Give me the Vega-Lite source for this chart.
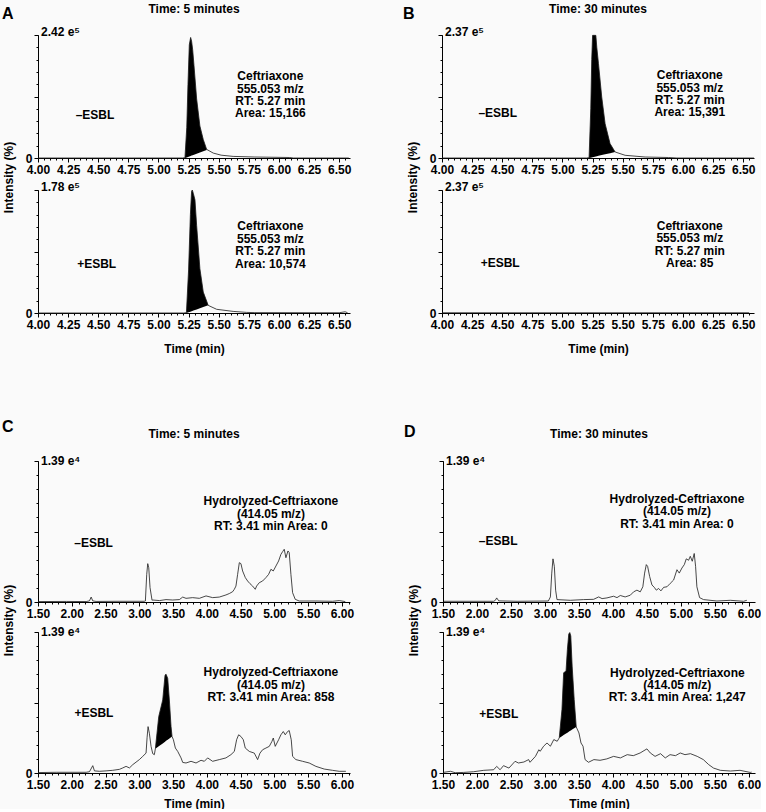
{
"$schema": "https://vega.github.io/schema/vega-lite/v6.json",
"background": "#fafafa",
"padding": {"left": 2, "top": 3, "right": 0, "bottom": 0},
"config": {
  "font": "Liberation Sans",
  "view": {"stroke": null},
  "axis": {"domainColor": "#000", "tickColor": "#000", "labelColor": "#000", "labelFont": "Liberation Sans", "labelFontWeight": "bold", "labelFontSize": 12, "titleFont": "Liberation Sans", "titleFontWeight": "bold", "titleFontSize": 12, "titleColor": "#000", "grid": false, "labelOverlap": false, "labelFlush": false, "domainWidth": 1, "tickWidth": 1, "labelPadding": 2},
  "title": {"font": "Liberation Sans", "fontWeight": "bold", "fontSize": 12, "color": "#000"},
  "text": {"font": "Liberation Sans", "fontWeight": "bold", "fontSize": 12, "color": "#000"}
},
"datasets": {
  "Aneg": [{"t":4,"v":0},{"t":5.2,"v":0},{"t":5.22,"v":0.3,"b":0},{"t":5.235,"v":25,"b":0.5},{"t":5.245,"v":60,"b":0.9},{"t":5.256,"v":92,"b":1.3},{"t":5.267,"v":98,"b":1.7},{"t":5.275,"v":95,"b":2.0},{"t":5.284,"v":88,"b":2.3},{"t":5.295,"v":75,"b":2.7},{"t":5.317,"v":48,"b":3.5},{"t":5.344,"v":26,"b":4.5},{"t":5.372,"v":15,"b":5.5},{"t":5.4,"v":7,"b":6.5},{"t":5.455,"v":4},{"t":5.52,"v":2.3},{"t":5.62,"v":1.3},{"t":5.8,"v":0.8},{"t":6.09,"v":0.4},{"t":6.12,"v":0},{"t":6.58,"v":0}],
  "Apos": [{"t":4,"v":0},{"t":5.21,"v":0},{"t":5.232,"v":0.3,"b":0},{"t":5.25,"v":35,"b":0.6},{"t":5.265,"v":80,"b":1.1},{"t":5.275,"v":99,"b":1.5},{"t":5.281,"v":100,"b":1.7},{"t":5.29,"v":97,"b":2.0},{"t":5.303,"v":92,"b":2.4},{"t":5.317,"v":71,"b":2.9},{"t":5.344,"v":36,"b":3.8},{"t":5.372,"v":17,"b":4.8},{"t":5.413,"v":6.2,"b":6.2},{"t":5.483,"v":3},{"t":5.62,"v":1.3},{"t":5.73,"v":0.5},{"t":5.8,"v":0.3},{"t":6.5,"v":0.2},{"t":6.55,"v":1},{"t":6.57,"v":0.2}],
  "Bneg": [{"t":4,"v":0},{"t":5.2,"v":0},{"t":5.221,"v":0.3,"b":0},{"t":5.235,"v":40,"b":0.3},{"t":5.243,"v":80,"b":0.5},{"t":5.25,"v":99.7,"b":0.7},{"t":5.277,"v":99.7,"b":1.3},{"t":5.285,"v":90,"b":1.5},{"t":5.299,"v":76.7,"b":1.8},{"t":5.326,"v":49.6,"b":2.4},{"t":5.354,"v":27.9,"b":3.0},{"t":5.395,"v":11.7,"b":3.9},{"t":5.437,"v":4.9,"b":4.9},{"t":5.52,"v":2.2},{"t":5.686,"v":0.8},{"t":5.88,"v":0.4},{"t":5.95,"v":0},{"t":6.59,"v":0}],
  "Bpos": [{"t":4,"v":0.2},{"t":6.55,"v":0.2}],
  "Cneg": [{"t":1.5,"v":0.3},{"t":1.92,"v":0.4},{"t":2.213,"v":0.3},{"t":2.262,"v":0.8},{"t":2.287,"v":3.5},{"t":2.311,"v":0.8},{"t":2.36,"v":0.4},{"t":2.7,"v":0.5},{"t":3.075,"v":0.5},{"t":3.09,"v":0.7},{"t":3.11,"v":19.6},{"t":3.125,"v":27.2},{"t":3.14,"v":24.3},{"t":3.159,"v":10.2},{"t":3.189,"v":1.2},{"t":3.199,"v":1.4},{"t":3.3,"v":1.0},{"t":3.396,"v":1.7},{"t":3.495,"v":1.4},{"t":3.593,"v":1.7},{"t":3.643,"v":3.5},{"t":3.692,"v":2.6},{"t":3.79,"v":3.1},{"t":3.889,"v":2.6},{"t":3.988,"v":4.3},{"t":4.086,"v":3.1},{"t":4.185,"v":3.5},{"t":4.283,"v":5.0},{"t":4.333,"v":6.0},{"t":4.382,"v":7.3},{"t":4.407,"v":9.0},{"t":4.431,"v":11.3},{"t":4.456,"v":19.6},{"t":4.481,"v":27.9},{"t":4.505,"v":27.2},{"t":4.53,"v":22.0},{"t":4.57,"v":17.3},{"t":4.604,"v":14.9},{"t":4.639,"v":13.0},{"t":4.678,"v":11.3},{"t":4.717,"v":9.0},{"t":4.737,"v":11.3},{"t":4.777,"v":13.7},{"t":4.826,"v":14.9},{"t":4.875,"v":17.3},{"t":4.915,"v":19.6},{"t":4.949,"v":23.2},{"t":4.984,"v":22.0},{"t":5.023,"v":25.5},{"t":5.063,"v":29.1},{"t":5.097,"v":33.8},{"t":5.122,"v":35.7},{"t":5.146,"v":37.4},{"t":5.171,"v":31.4},{"t":5.201,"v":36.2},{"t":5.22,"v":35.0},{"t":5.245,"v":19.6},{"t":5.27,"v":6.6},{"t":5.309,"v":1.9},{"t":5.368,"v":0.7},{"t":5.615,"v":0.7},{"t":5.861,"v":0.5},{"t":5.96,"v":1.0},{"t":6.05,"v":0.3}],
  "Cpos": [{"t":1.5,"v":0.3},{"t":1.77,"v":0.5},{"t":2.213,"v":0.5},{"t":2.262,"v":0.9},{"t":2.311,"v":5.2},{"t":2.336,"v":1.5},{"t":2.41,"v":1.2},{"t":2.508,"v":1.5},{"t":2.607,"v":1.9},{"t":2.706,"v":2.6},{"t":2.755,"v":3.6},{"t":2.804,"v":4.7},{"t":2.854,"v":3.6},{"t":2.903,"v":5.9},{"t":3.001,"v":9.5},{"t":3.051,"v":11.8},{"t":3.1,"v":14.1},{"t":3.115,"v":25},{"t":3.13,"v":32.9},{"t":3.149,"v":28.2},{"t":3.174,"v":18.9},{"t":3.199,"v":13.7},{"t":3.223,"v":13.0},{"t":3.238,"v":17.2,"b":17.2},{"t":3.288,"v":40,"b":19.0},{"t":3.347,"v":51.8,"b":21.0},{"t":3.381,"v":69.4,"b":22.2},{"t":3.396,"v":70.1,"b":22.8},{"t":3.421,"v":67.1,"b":23.6},{"t":3.445,"v":51.8,"b":24.5},{"t":3.47,"v":32.9,"b":25.4},{"t":3.485,"v":25.9,"b":25.9},{"t":3.505,"v":23.6},{"t":3.534,"v":17.7},{"t":3.569,"v":15.3},{"t":3.618,"v":10.7},{"t":3.643,"v":7.5},{"t":3.692,"v":7.1},{"t":3.766,"v":8.3},{"t":3.84,"v":7.1},{"t":3.914,"v":9.0},{"t":3.963,"v":8.3},{"t":4.012,"v":10.7},{"t":4.086,"v":8.3},{"t":4.185,"v":9.5},{"t":4.283,"v":10.7},{"t":4.357,"v":13.0},{"t":4.407,"v":15.3},{"t":4.441,"v":23.6},{"t":4.471,"v":27.1},{"t":4.505,"v":25.9},{"t":4.54,"v":23.6},{"t":4.569,"v":17.7},{"t":4.629,"v":15.3},{"t":4.703,"v":14.1},{"t":4.752,"v":9.5},{"t":4.787,"v":14.1},{"t":4.826,"v":16.5},{"t":4.875,"v":17.7},{"t":4.925,"v":18.9},{"t":4.964,"v":22.4},{"t":4.984,"v":24.8},{"t":5.013,"v":18.9},{"t":5.063,"v":23.6},{"t":5.097,"v":27.1},{"t":5.132,"v":29.4},{"t":5.161,"v":27.1},{"t":5.196,"v":29.4},{"t":5.22,"v":30.1},{"t":5.25,"v":23.6},{"t":5.27,"v":11.8},{"t":5.319,"v":9.5},{"t":5.418,"v":8.3},{"t":5.516,"v":7.1},{"t":5.615,"v":4.7},{"t":5.738,"v":2.8},{"t":5.861,"v":1.9},{"t":5.96,"v":1.2},{"t":6.059,"v":1.2}],
  "Dneg": [{"t":1.51,"v":0.5},{"t":2.246,"v":0.5},{"t":2.27,"v":1.2},{"t":2.29,"v":2.9},{"t":2.32,"v":0.8},{"t":2.59,"v":0.5},{"t":3.05,"v":0.7},{"t":3.08,"v":3.6},{"t":3.1,"v":20.5},{"t":3.118,"v":30.6},{"t":3.138,"v":25.3},{"t":3.157,"v":8.4},{"t":3.177,"v":1.7},{"t":3.373,"v":1.2},{"t":3.569,"v":1.7},{"t":3.716,"v":1.9},{"t":3.79,"v":3.6},{"t":3.84,"v":2.4},{"t":3.912,"v":2.9},{"t":4.01,"v":4.1},{"t":4.06,"v":3.1},{"t":4.108,"v":4.6},{"t":4.18,"v":3.6},{"t":4.255,"v":4.8},{"t":4.304,"v":7.2},{"t":4.353,"v":8.4},{"t":4.402,"v":7.2},{"t":4.44,"v":10.8},{"t":4.466,"v":20.5},{"t":4.491,"v":26.5},{"t":4.51,"v":25.3},{"t":4.54,"v":18.1},{"t":4.574,"v":12.1},{"t":4.608,"v":10.4},{"t":4.638,"v":8.4},{"t":4.672,"v":9.6},{"t":4.706,"v":7.9},{"t":4.746,"v":10.4},{"t":4.795,"v":10.8},{"t":4.843,"v":13.2},{"t":4.893,"v":15.6},{"t":4.942,"v":22.9},{"t":4.976,"v":20.5},{"t":5.015,"v":24.1},{"t":5.05,"v":26.5},{"t":5.079,"v":30.6},{"t":5.113,"v":29.6},{"t":5.138,"v":32.4},{"t":5.167,"v":28.9},{"t":5.196,"v":34.4},{"t":5.216,"v":25.3},{"t":5.235,"v":10.8},{"t":5.275,"v":3.1},{"t":5.333,"v":1.7},{"t":5.53,"v":0.7},{"t":5.726,"v":1.2},{"t":5.922,"v":0.5},{"t":5.97,"v":1.2}],
  "Dpos": [{"t":1.5,"v":0.4},{"t":1.61,"v":1.2},{"t":1.68,"v":0.2},{"t":1.8,"v":0.4},{"t":1.95,"v":0.9},{"t":2.1,"v":1.9},{"t":2.245,"v":2.3},{"t":2.29,"v":4.7},{"t":2.34,"v":2.3},{"t":2.39,"v":5.2},{"t":2.47,"v":3.5},{"t":2.56,"v":8.3},{"t":2.61,"v":7.1},{"t":2.69,"v":7.8},{"t":2.76,"v":9.5},{"t":2.78,"v":7.6},{"t":2.86,"v":11.8},{"t":2.91,"v":16.5},{"t":2.93,"v":15.4},{"t":2.98,"v":19.0},{"t":3.03,"v":21.3},{"t":3.08,"v":19.0},{"t":3.13,"v":23.7},{"t":3.18,"v":22.5},{"t":3.21,"v":24.9,"b":24.9},{"t":3.25,"v":45,"b":26.1},{"t":3.275,"v":71.1,"b":26.9},{"t":3.31,"v":72.3,"b":28.0},{"t":3.33,"v":87.7,"b":28.6},{"t":3.35,"v":98.5,"b":29.3},{"t":3.365,"v":99.6,"b":29.7},{"t":3.38,"v":97.2,"b":30.2},{"t":3.4,"v":75.8,"b":30.8},{"t":3.43,"v":52.1,"b":31.8},{"t":3.46,"v":32.7,"b":32.7},{"t":3.5,"v":28.4},{"t":3.53,"v":21.3},{"t":3.56,"v":19.0},{"t":3.59,"v":9.5},{"t":3.64,"v":7.6},{"t":3.72,"v":9.5},{"t":3.81,"v":9.0},{"t":3.91,"v":10.0},{"t":4.01,"v":11.8},{"t":4.11,"v":10.7},{"t":4.21,"v":13.0},{"t":4.3,"v":12.3},{"t":4.4,"v":14.2},{"t":4.5,"v":17.1},{"t":4.55,"v":14.2},{"t":4.62,"v":11.8},{"t":4.7,"v":13.7},{"t":4.77,"v":10.7},{"t":4.84,"v":13.0},{"t":4.92,"v":12.3},{"t":4.99,"v":14.2},{"t":5.06,"v":13.0},{"t":5.14,"v":13.7},{"t":5.24,"v":11.8},{"t":5.33,"v":9.5},{"t":5.41,"v":5.9},{"t":5.48,"v":3.5},{"t":5.58,"v":1.9},{"t":5.73,"v":1.4},{"t":5.87,"v":1.9},{"t":6.02,"v":0.4},{"t":6.04,"v":0.6}]
},
"vconcat": [
 {"hconcat": [
  {"title": {"text": "A", "anchor": "start", "frame": "bounds", "fontSize": 16, "dy": 22.5},
   "bounds": "flush", "spacing": 32,
   "vconcat": [
    {"width": 312, "height": 123,
     "title": {"text": "Time: 5 minutes", "anchor": "middle", "frame": "group", "offset": 10},
     "resolve": {"axis": {"x": "independent", "y": "independent"}},
     "layer": [
      {"data": {"name": "Aneg"}, "transform": [{"filter": "isValid(datum.b)"}], "mark": {"type": "area", "color": "#000"},
       "encoding": {"x": {"field": "t", "type": "quantitative", "scale": {"domain": [4, 6.59], "nice": false, "zero": false}, "axis": null},
                    "y": {"field": "v", "type": "quantitative", "scale": {"domain": [0, 100], "nice": false}, "axis": null},
                    "y2": {"field": "b"}}},
      {"data": {"name": "Aneg"}, "mark": {"type": "line", "color": "#1a1a1a", "strokeWidth": 0.8},
       "encoding": {
        "x": {"field": "t", "type": "quantitative", "scale": {"domain": [4, 6.59], "nice": false, "zero": false},
              "axis": {"orient": "bottom", "title": null, "values": [4,4.25,4.5,4.75,5,5.25,5.5,5.75,6,6.25,6.5], "format": ".2f", "tickSize": 4, "labelOverlap": false, "labelFlush": false}},
        "y": {"field": "v", "type": "quantitative", "scale": {"domain": [0, 100], "nice": false},
              "axis": {"orient": "left", "values": [0,50,100], "labelExpr": "datum.value == 0 ? '0' : ''", "tickSize": 4, "labelPadding": 2, "labelOverlap": false,
                       "title": "Intensity (%)", "titleX": -30, "titleY": 142, "titleBaseline": "middle", "titleAlign": "center", "titleAngle": 270}}}},
      {"data": {"values": [{}]}, "mark": {"type": "text", "align": "center", "baseline": "middle"},
       "encoding": {"x": {"datum": 4.473, "type": "quantitative", "axis": {"orient": "bottom", "values": [4,4.05,4.1,4.15,4.2,4.25,4.3,4.35,4.4,4.45,4.5,4.55,4.6,4.65,4.7,4.75,4.8,4.85,4.9,4.95,5,5.05,5.1,5.15,5.2,5.25,5.3,5.35,5.4,5.45,5.5,5.55,5.6,5.65,5.7,5.75,5.8,5.85,5.9,5.95,6,6.05,6.1,6.15,6.2,6.25,6.3,6.35,6.4,6.45,6.5,6.55], "tickSize": 2, "labels": false, "domain": false, "title": null}},
                    "y": {"datum": 35.3, "type": "quantitative", "axis": {"orient": "left", "values": [0,10,20,30,40,50,60,70,80,90,100], "tickSize": 2, "labels": false, "domain": false, "title": null}},
                    "text": {"value": "–ESBL"}}},
      {"data": {"values": [{}]}, "mark": {"type": "text", "align": "left", "baseline": "middle", "dx": 3, "dy": -3},
       "encoding": {"x": {"datum": 4, "type": "quantitative", "axis": null}, "y": {"datum": 100, "type": "quantitative", "axis": null}, "text": {"value": "2.42 e⁵"}}},
      {"data": {"values": [{}]}, "mark": {"type": "text", "align": "center", "baseline": "alphabetic", "lineBreak": "\n", "lineHeight": 12.4},
       "encoding": {"x": {"datum": 5.929, "type": "quantitative", "axis": null}, "y": {"datum": 63.2, "type": "quantitative", "axis": null}, "text": {"value": "Ceftriaxone\n555.053 m/z\nRT: 5.27 min\nArea: 15,166"}}}
     ]},
    {"width": 312, "height": 123,
     "resolve": {"axis": {"x": "independent", "y": "independent"}},
     "layer": [
      {"data": {"name": "Apos"}, "transform": [{"filter": "isValid(datum.b)"}], "mark": {"type": "area", "color": "#000"},
       "encoding": {"x": {"field": "t", "type": "quantitative", "scale": {"domain": [4, 6.59], "nice": false, "zero": false}, "axis": null},
                    "y": {"field": "v", "type": "quantitative", "scale": {"domain": [0, 100], "nice": false}, "axis": null},
                    "y2": {"field": "b"}}},
      {"data": {"name": "Apos"}, "mark": {"type": "line", "color": "#1a1a1a", "strokeWidth": 0.8},
       "encoding": {
        "x": {"field": "t", "type": "quantitative", "scale": {"domain": [4, 6.59], "nice": false, "zero": false},
              "axis": {"orient": "bottom", "title": "Time (min)", "titlePadding": 13, "values": [4,4.25,4.5,4.75,5,5.25,5.5,5.75,6,6.25,6.5], "format": ".2f", "tickSize": 4, "labelOverlap": false, "labelFlush": false}},
        "y": {"field": "v", "type": "quantitative", "scale": {"domain": [0, 100], "nice": false},
              "axis": {"orient": "left", "values": [0,50,100], "labelExpr": "datum.value == 0 ? '0' : ''", "tickSize": 4, "labelPadding": 2, "labelOverlap": false, "title": null}}}},
      {"data": {"values": [{}]}, "mark": {"type": "text", "align": "center", "baseline": "middle"},
       "encoding": {"x": {"datum": 4.487, "type": "quantitative", "axis": {"orient": "bottom", "values": [4,4.05,4.1,4.15,4.2,4.25,4.3,4.35,4.4,4.45,4.5,4.55,4.6,4.65,4.7,4.75,4.8,4.85,4.9,4.95,5,5.05,5.1,5.15,5.2,5.25,5.3,5.35,5.4,5.45,5.5,5.55,5.6,5.65,5.7,5.75,5.8,5.85,5.9,5.95,6,6.05,6.1,6.15,6.2,6.25,6.3,6.35,6.4,6.45,6.5,6.55], "tickSize": 2, "labels": false, "domain": false, "title": null}},
                    "y": {"datum": 39.5, "type": "quantitative", "axis": {"orient": "left", "values": [0,10,20,30,40,50,60,70,80,90,100], "tickSize": 2, "labels": false, "domain": false, "title": null}},
                    "text": {"value": "+ESBL"}}},
      {"data": {"values": [{}]}, "mark": {"type": "text", "align": "left", "baseline": "middle", "dx": 3, "dy": -3},
       "encoding": {"x": {"datum": 4, "type": "quantitative", "axis": null}, "y": {"datum": 100, "type": "quantitative", "axis": null}, "text": {"value": "1.78 e⁵"}}},
      {"data": {"values": [{}]}, "mark": {"type": "text", "align": "center", "baseline": "alphabetic", "lineBreak": "\n", "lineHeight": 12.4},
       "encoding": {"x": {"datum": 5.929, "type": "quantitative", "axis": null}, "y": {"datum": 67.2, "type": "quantitative", "axis": null}, "text": {"value": "Ceftriaxone\n555.053 m/z\nRT: 5.27 min\nArea: 10,574"}}}
     ]}
   ]},
  {"title": {"text": "B", "anchor": "start", "frame": "bounds", "fontSize": 16, "dy": 23, "dx": -3},
   "bounds": "flush", "spacing": 32,
   "vconcat": [
    {"width": 312, "height": 123,
     "title": {"text": "Time: 30 minutes", "anchor": "middle", "frame": "group", "offset": 10},
     "resolve": {"axis": {"x": "independent", "y": "independent"}},
     "layer": [
      {"data": {"name": "Bneg"}, "transform": [{"filter": "isValid(datum.b)"}], "mark": {"type": "area", "color": "#000"},
       "encoding": {"x": {"field": "t", "type": "quantitative", "scale": {"domain": [4, 6.59], "nice": false, "zero": false}, "axis": null},
                    "y": {"field": "v", "type": "quantitative", "scale": {"domain": [0, 100], "nice": false}, "axis": null},
                    "y2": {"field": "b"}}},
      {"data": {"name": "Bneg"}, "mark": {"type": "line", "color": "#1a1a1a", "strokeWidth": 0.8},
       "encoding": {
        "x": {"field": "t", "type": "quantitative", "scale": {"domain": [4, 6.59], "nice": false, "zero": false},
              "axis": {"orient": "bottom", "title": null, "values": [4,4.25,4.5,4.75,5,5.25,5.5,5.75,6,6.25,6.5], "format": ".2f", "tickSize": 4, "labelOverlap": false, "labelFlush": false}},
        "y": {"field": "v", "type": "quantitative", "scale": {"domain": [0, 100], "nice": false},
              "axis": {"orient": "left", "values": [0,50,100], "labelExpr": "datum.value == 0 ? '0' : ''", "tickSize": 4, "labelPadding": 2, "labelOverlap": false,
                       "title": "Intensity (%)", "titleX": -30, "titleY": 142, "titleBaseline": "middle", "titleAlign": "center", "titleAngle": 270}}}},
      {"data": {"values": [{}]}, "mark": {"type": "text", "align": "center", "baseline": "middle"},
       "encoding": {"x": {"datum": 4.463, "type": "quantitative", "axis": {"orient": "bottom", "values": [4,4.05,4.1,4.15,4.2,4.25,4.3,4.35,4.4,4.45,4.5,4.55,4.6,4.65,4.7,4.75,4.8,4.85,4.9,4.95,5,5.05,5.1,5.15,5.2,5.25,5.3,5.35,5.4,5.45,5.5,5.55,5.6,5.65,5.7,5.75,5.8,5.85,5.9,5.95,6,6.05,6.1,6.15,6.2,6.25,6.3,6.35,6.4,6.45,6.5,6.55], "tickSize": 2, "labels": false, "domain": false, "title": null}},
                    "y": {"datum": 36.3, "type": "quantitative", "axis": {"orient": "left", "values": [0,10,20,30,40,50,60,70,80,90,100], "tickSize": 2, "labels": false, "domain": false, "title": null}},
                    "text": {"value": "–ESBL"}}},
      {"data": {"values": [{}]}, "mark": {"type": "text", "align": "left", "baseline": "middle", "dx": 3, "dy": -3},
       "encoding": {"x": {"datum": 4, "type": "quantitative", "axis": null}, "y": {"datum": 100, "type": "quantitative", "axis": null}, "text": {"value": "2.37 e⁵"}}},
      {"data": {"values": [{}]}, "mark": {"type": "text", "align": "center", "baseline": "alphabetic", "lineBreak": "\n", "lineHeight": 12.4},
       "encoding": {"x": {"datum": 6.057, "type": "quantitative", "axis": null}, "y": {"datum": 64, "type": "quantitative", "axis": null}, "text": {"value": "Ceftriaxone\n555.053 m/z\nRT: 5.27 min\nArea: 15,391"}}}
     ]},
    {"width": 312, "height": 123,
     "resolve": {"axis": {"x": "independent", "y": "independent"}},
     "layer": [
      {"data": {"name": "Bpos"}, "mark": {"type": "line", "color": "#1a1a1a", "strokeWidth": 0.8},
       "encoding": {
        "x": {"field": "t", "type": "quantitative", "scale": {"domain": [4, 6.59], "nice": false, "zero": false},
              "axis": {"orient": "bottom", "title": "Time (min)", "titlePadding": 13, "values": [4,4.25,4.5,4.75,5,5.25,5.5,5.75,6,6.25,6.5], "format": ".2f", "tickSize": 4, "labelOverlap": false, "labelFlush": false}},
        "y": {"field": "v", "type": "quantitative", "scale": {"domain": [0, 100], "nice": false},
              "axis": {"orient": "left", "values": [0,50,100], "labelExpr": "datum.value == 0 ? '0' : ''", "tickSize": 4, "labelPadding": 2, "labelOverlap": false, "title": null}}}},
      {"data": {"values": [{}]}, "mark": {"type": "text", "align": "center", "baseline": "middle"},
       "encoding": {"x": {"datum": 4.483, "type": "quantitative", "axis": {"orient": "bottom", "values": [4,4.05,4.1,4.15,4.2,4.25,4.3,4.35,4.4,4.45,4.5,4.55,4.6,4.65,4.7,4.75,4.8,4.85,4.9,4.95,5,5.05,5.1,5.15,5.2,5.25,5.3,5.35,5.4,5.45,5.5,5.55,5.6,5.65,5.7,5.75,5.8,5.85,5.9,5.95,6,6.05,6.1,6.15,6.2,6.25,6.3,6.35,6.4,6.45,6.5,6.55], "tickSize": 2, "labels": false, "domain": false, "title": null}},
                    "y": {"datum": 40.3, "type": "quantitative", "axis": {"orient": "left", "values": [0,10,20,30,40,50,60,70,80,90,100], "tickSize": 2, "labels": false, "domain": false, "title": null}},
                    "text": {"value": "+ESBL"}}},
      {"data": {"values": [{}]}, "mark": {"type": "text", "align": "left", "baseline": "middle", "dx": 3, "dy": -3},
       "encoding": {"x": {"datum": 4, "type": "quantitative", "axis": null}, "y": {"datum": 100, "type": "quantitative", "axis": null}, "text": {"value": "2.37 e⁵"}}},
      {"data": {"values": [{}]}, "mark": {"type": "text", "align": "center", "baseline": "alphabetic", "lineBreak": "\n", "lineHeight": 12.4},
       "encoding": {"x": {"datum": 6.057, "type": "quantitative", "axis": null}, "y": {"datum": 67.5, "type": "quantitative", "axis": null}, "text": {"value": "Ceftriaxone\n555.053 m/z\nRT: 5.27 min\nArea: 85"}}}
     ]}
   ]}
 ], "spacing": 52},
 {"hconcat": [
  {"title": {"text": "C", "anchor": "start", "frame": "bounds", "fontSize": 16, "dy": 11},
   "bounds": "flush", "spacing": 30,
   "vconcat": [
    {"width": 312, "height": 141,
     "title": {"text": "Time: 5 minutes", "anchor": "middle", "frame": "group", "offset": 14},
     "resolve": {"axis": {"x": "independent", "y": "independent"}},
     "layer": [
      {"data": {"name": "Cneg"}, "mark": {"type": "line", "color": "#1a1a1a", "strokeWidth": 0.8},
       "encoding": {
        "x": {"field": "t", "type": "quantitative", "scale": {"domain": [1.5, 6.12], "nice": false, "zero": false},
              "axis": {"orient": "bottom", "title": null, "values": [1.5,2,2.5,3,3.5,4,4.5,5,5.5,6], "format": ".2f", "tickSize": 4, "labelOverlap": false, "labelFlush": false}},
        "y": {"field": "v", "type": "quantitative", "scale": {"domain": [0, 100], "nice": false},
              "axis": {"orient": "left", "values": [0,50,100], "labelExpr": "datum.value == 0 ? '0' : ''", "tickSize": 4, "labelPadding": 2, "labelOverlap": false,
                       "title": "Intensity (%)", "titleX": -30, "titleY": 159, "titleBaseline": "middle", "titleAlign": "center", "titleAngle": 270}}}},
      {"data": {"values": [{}]}, "mark": {"type": "text", "align": "center", "baseline": "middle"},
       "encoding": {"x": {"datum": 2.323, "type": "quantitative", "axis": {"orient": "bottom", "values": [1.5,1.6,1.7,1.8,1.9,2,2.1,2.2,2.3,2.4,2.5,2.6,2.7,2.8,2.9,3,3.1,3.2,3.3,3.4,3.5,3.6,3.7,3.8,3.9,4,4.1,4.2,4.3,4.4,4.5,4.6,4.7,4.8,4.9,5,5.1,5.2,5.3,5.4,5.5,5.6,5.7,5.8,5.9,6,6.1], "tickSize": 2, "labels": false, "domain": false, "title": null}},
                    "y": {"datum": 42, "type": "quantitative", "axis": {"orient": "left", "values": [0,10,20,30,40,50,60,70,80,90,100], "tickSize": 2, "labels": false, "domain": false, "title": null}},
                    "text": {"value": "–ESBL"}}},
      {"data": {"values": [{}]}, "mark": {"type": "text", "align": "left", "baseline": "middle", "dx": 3, "dy": 0},
       "encoding": {"x": {"datum": 1.5, "type": "quantitative", "axis": null}, "y": {"datum": 100, "type": "quantitative", "axis": null}, "text": {"value": "1.39 e⁴"}}},
      {"data": {"values": [{}]}, "mark": {"type": "text", "align": "center", "baseline": "alphabetic", "lineBreak": "\n", "lineHeight": 12.4},
       "encoding": {"x": {"datum": 4.949, "type": "quantitative", "axis": null}, "y": {"datum": 68.6, "type": "quantitative", "axis": null}, "text": {"value": "Hydrolyzed-Ceftriaxone\n(414.05 m/z)\nRT: 3.41 min Area: 0"}}}
     ]},
    {"width": 312, "height": 141,
     "resolve": {"axis": {"x": "independent", "y": "independent"}},
     "layer": [
      {"data": {"name": "Cpos"}, "transform": [{"filter": "isValid(datum.b)"}], "mark": {"type": "area", "color": "#000"},
       "encoding": {"x": {"field": "t", "type": "quantitative", "scale": {"domain": [1.5, 6.12], "nice": false, "zero": false}, "axis": null},
                    "y": {"field": "v", "type": "quantitative", "scale": {"domain": [0, 100], "nice": false}, "axis": null},
                    "y2": {"field": "b"}}},
      {"data": {"name": "Cpos"}, "mark": {"type": "line", "color": "#1a1a1a", "strokeWidth": 0.8},
       "encoding": {
        "x": {"field": "t", "type": "quantitative", "scale": {"domain": [1.5, 6.12], "nice": false, "zero": false},
              "axis": {"orient": "bottom", "title": "Time (min)", "titlePadding": 8, "values": [1.5,2,2.5,3,3.5,4,4.5,5,5.5,6], "format": ".2f", "tickSize": 4, "labelOverlap": false, "labelFlush": false}},
        "y": {"field": "v", "type": "quantitative", "scale": {"domain": [0, 100], "nice": false},
              "axis": {"orient": "left", "values": [0,50,100], "labelExpr": "datum.value == 0 ? '0' : ''", "tickSize": 4, "labelPadding": 2, "labelOverlap": false, "title": null}}}},
      {"data": {"values": [{}]}, "mark": {"type": "text", "align": "center", "baseline": "middle"},
       "encoding": {"x": {"datum": 2.328, "type": "quantitative", "axis": {"orient": "bottom", "values": [1.5,1.6,1.7,1.8,1.9,2,2.1,2.2,2.3,2.4,2.5,2.6,2.7,2.8,2.9,3,3.1,3.2,3.3,3.4,3.5,3.6,3.7,3.8,3.9,4,4.1,4.2,4.3,4.4,4.5,4.6,4.7,4.8,4.9,5,5.1,5.2,5.3,5.4,5.5,5.6,5.7,5.8,5.9,6,6.1], "tickSize": 2, "labels": false, "domain": false, "title": null}},
                    "y": {"datum": 42.4, "type": "quantitative", "axis": {"orient": "left", "values": [0,10,20,30,40,50,60,70,80,90,100], "tickSize": 2, "labels": false, "domain": false, "title": null}},
                    "text": {"value": "+ESBL"}}},
      {"data": {"values": [{}]}, "mark": {"type": "text", "align": "left", "baseline": "middle", "dx": 3, "dy": 0},
       "encoding": {"x": {"datum": 1.5, "type": "quantitative", "axis": null}, "y": {"datum": 100, "type": "quantitative", "axis": null}, "text": {"value": "1.39 e⁴"}}},
      {"data": {"values": [{}]}, "mark": {"type": "text", "align": "center", "baseline": "alphabetic", "lineBreak": "\n", "lineHeight": 12.4},
       "encoding": {"x": {"datum": 4.949, "type": "quantitative", "axis": null}, "y": {"datum": 68.5, "type": "quantitative", "axis": null}, "text": {"value": "Hydrolyzed-Ceftriaxone\n(414.05 m/z)\nRT: 3.41 min Area: 858"}}}
     ]}
   ]},
  {"title": {"text": "D", "anchor": "start", "frame": "bounds", "fontSize": 16, "dy": 16, "dx": -3},
   "bounds": "flush", "spacing": 30,
   "vconcat": [
    {"width": 312, "height": 141,
     "title": {"text": "Time: 30 minutes", "anchor": "middle", "frame": "group", "offset": 14},
     "resolve": {"axis": {"x": "independent", "y": "independent"}},
     "layer": [
      {"data": {"name": "Dneg"}, "mark": {"type": "line", "color": "#1a1a1a", "strokeWidth": 0.8},
       "encoding": {
        "x": {"field": "t", "type": "quantitative", "scale": {"domain": [1.5, 6.09], "nice": false, "zero": false},
              "axis": {"orient": "bottom", "title": null, "values": [1.5,2,2.5,3,3.5,4,4.5,5,5.5,6], "format": ".2f", "tickSize": 4, "labelOverlap": false, "labelFlush": false}},
        "y": {"field": "v", "type": "quantitative", "scale": {"domain": [0, 100], "nice": false},
              "axis": {"orient": "left", "values": [0,50,100], "labelExpr": "datum.value == 0 ? '0' : ''", "tickSize": 4, "labelPadding": 2, "labelOverlap": false,
                       "title": "Intensity (%)", "titleX": -30, "titleY": 159, "titleBaseline": "middle", "titleAlign": "center", "titleAngle": 270}}}},
      {"data": {"values": [{}]}, "mark": {"type": "text", "align": "center", "baseline": "middle"},
       "encoding": {"x": {"datum": 2.312, "type": "quantitative", "axis": {"orient": "bottom", "values": [1.5,1.6,1.7,1.8,1.9,2,2.1,2.2,2.3,2.4,2.5,2.6,2.7,2.8,2.9,3,3.1,3.2,3.3,3.4,3.5,3.6,3.7,3.8,3.9,4,4.1,4.2,4.3,4.4,4.5,4.6,4.7,4.8,4.9,5,5.1,5.2,5.3,5.4,5.5,5.6,5.7,5.8,5.9,6], "tickSize": 2, "labels": false, "domain": false, "title": null}},
                    "y": {"datum": 43.4, "type": "quantitative", "axis": {"orient": "left", "values": [0,10,20,30,40,50,60,70,80,90,100], "tickSize": 2, "labels": false, "domain": false, "title": null}},
                    "text": {"value": "–ESBL"}}},
      {"data": {"values": [{}]}, "mark": {"type": "text", "align": "left", "baseline": "middle", "dx": 3, "dy": 0},
       "encoding": {"x": {"datum": 1.5, "type": "quantitative", "axis": null}, "y": {"datum": 100, "type": "quantitative", "axis": null}, "text": {"value": "1.39 e⁴"}}},
      {"data": {"values": [{}]}, "mark": {"type": "text", "align": "center", "baseline": "alphabetic", "lineBreak": "\n", "lineHeight": 12.4},
       "encoding": {"x": {"datum": 4.942, "type": "quantitative", "axis": null}, "y": {"datum": 70.4, "type": "quantitative", "axis": null}, "text": {"value": "Hydrolyzed-Ceftriaxone\n(414.05 m/z)\nRT: 3.41 min Area: 0"}}}
     ]},
    {"width": 312, "height": 141,
     "resolve": {"axis": {"x": "independent", "y": "independent"}},
     "layer": [
      {"data": {"name": "Dpos"}, "transform": [{"filter": "isValid(datum.b)"}], "mark": {"type": "area", "color": "#000"},
       "encoding": {"x": {"field": "t", "type": "quantitative", "scale": {"domain": [1.5, 6.09], "nice": false, "zero": false}, "axis": null},
                    "y": {"field": "v", "type": "quantitative", "scale": {"domain": [0, 100], "nice": false}, "axis": null},
                    "y2": {"field": "b"}}},
      {"data": {"name": "Dpos"}, "mark": {"type": "line", "color": "#1a1a1a", "strokeWidth": 0.8},
       "encoding": {
        "x": {"field": "t", "type": "quantitative", "scale": {"domain": [1.5, 6.09], "nice": false, "zero": false},
              "axis": {"orient": "bottom", "title": "Time (min)", "titlePadding": 8, "values": [1.5,2,2.5,3,3.5,4,4.5,5,5.5,6], "format": ".2f", "tickSize": 4, "labelOverlap": false, "labelFlush": false}},
        "y": {"field": "v", "type": "quantitative", "scale": {"domain": [0, 100], "nice": false},
              "axis": {"orient": "left", "values": [0,50,100], "labelExpr": "datum.value == 0 ? '0' : ''", "tickSize": 4, "labelPadding": 2, "labelOverlap": false, "title": null}}}},
      {"data": {"values": [{}]}, "mark": {"type": "text", "align": "center", "baseline": "middle"},
       "encoding": {"x": {"datum": 2.32, "type": "quantitative", "axis": {"orient": "bottom", "values": [1.5,1.6,1.7,1.8,1.9,2,2.1,2.2,2.3,2.4,2.5,2.6,2.7,2.8,2.9,3,3.1,3.2,3.3,3.4,3.5,3.6,3.7,3.8,3.9,4,4.1,4.2,4.3,4.4,4.5,4.6,4.7,4.8,4.9,5,5.1,5.2,5.3,5.4,5.5,5.6,5.7,5.8,5.9,6], "tickSize": 2, "labels": false, "domain": false, "title": null}},
                    "y": {"datum": 41.8, "type": "quantitative", "axis": {"orient": "left", "values": [0,10,20,30,40,50,60,70,80,90,100], "tickSize": 2, "labels": false, "domain": false, "title": null}},
                    "text": {"value": "+ESBL"}}},
      {"data": {"values": [{}]}, "mark": {"type": "text", "align": "left", "baseline": "middle", "dx": 3, "dy": 0},
       "encoding": {"x": {"datum": 1.5, "type": "quantitative", "axis": null}, "y": {"datum": 100, "type": "quantitative", "axis": null}, "text": {"value": "1.39 e⁴"}}},
      {"data": {"values": [{}]}, "mark": {"type": "text", "align": "center", "baseline": "alphabetic", "lineBreak": "\n", "lineHeight": 12.4},
       "encoding": {"x": {"datum": 4.947, "type": "quantitative", "axis": null}, "y": {"datum": 68.3, "type": "quantitative", "axis": null}, "text": {"value": "Hydrolyzed-Ceftriaxone\n(414.05 m/z)\nRT: 3.41 min Area: 1,247"}}}
     ]}
   ]}
 ], "spacing": 50}
],
"spacing": 65
}
